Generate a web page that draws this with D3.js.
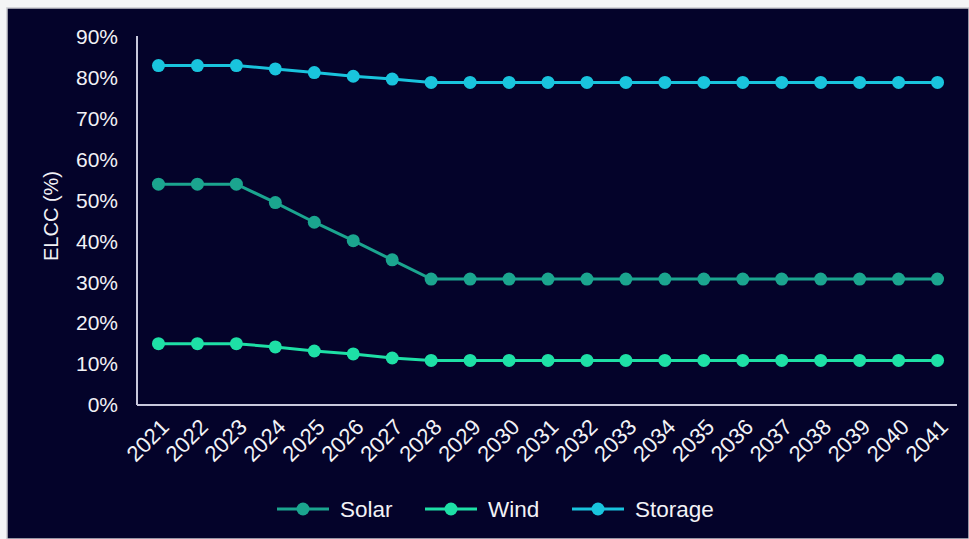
<!DOCTYPE html>
<html>
<head>
<meta charset="utf-8">
<script src="https://cdn.jsdelivr.net/npm/d3@7"></script>
<style>
  html, body { margin: 0; padding: 0; background: #ececf0; }
  svg { display: block; }
  text { font-family: "Liberation Sans", Arial, sans-serif; fill: #f2f2f6; }
</style>
</head>
<body>
<svg id="chart" width="969" height="539"></svg>
<script>
// Effective load carrying capability by resource type, 2021-2041
const years = d3.range(2021, 2042).map(String);
const solar   = [54, 54, 54, 49.5, 44.7, 40.2, 35.5, 30.8, 30.8, 30.8, 30.8, 30.8, 30.8, 30.8, 30.8, 30.8, 30.8, 30.8, 30.8, 30.8, 30.8];
const wind    = [15, 15, 15, 14.2, 13.2, 12.5, 11.5, 10.9, 10.9, 10.9, 10.9, 10.9, 10.9, 10.9, 10.9, 10.9, 10.9, 10.9, 10.9, 10.9, 10.9];
const storage = [83, 83, 83, 82.2, 81.3, 80.4, 79.7, 78.9, 78.9, 78.9, 78.9, 78.9, 78.9, 78.9, 78.9, 78.9, 78.9, 78.9, 78.9, 78.9, 78.9];
const yTicks = [0, 10, 20, 30, 40, 50, 60, 70, 80, 90];
const seriesNames = ["Solar", "Wind", "Storage"];
const seriesColors = ["#1ba58f", "#1ee0a6", "#19c4dd"];

const series = [solar, wind, storage].map((values, i) => ({
  name: seriesNames[i], color: seriesColors[i], values
}));

const svg = d3.select("#chart");
const W = 969, H = 539;

// dark panel with a thin light frame at top and left
svg.append("rect").attr("x", 0).attr("y", 0).attr("width", W).attr("height", H).attr("fill", "#f4f4f6");
svg.append("rect").attr("x", 7).attr("y", 8).attr("width", W - 7).attr("height", H - 8)
  .attr("fill", "#04032a").attr("stroke", "#c9c9cf").attr("stroke-width", 1.5);

const plotLeft = 137, plotRight = 957, plotTop = 37, plotBottom = 405;

const x = d3.scalePoint().domain(years).range([plotLeft + 2, plotRight]).padding(0.5);
const y = d3.scaleLinear().domain([0, 90]).range([plotBottom, plotTop]);

// y tick labels
const yAxis = d3.axisLeft(y).tickValues(yTicks).tickFormat(d => d + "%").tickSize(0).tickPadding(19);
const gy = svg.append("g").attr("transform", `translate(${plotLeft},0)`).call(yAxis);
gy.select(".domain").remove();
gy.selectAll("text").attr("font-size", 21).attr("fill", "#f2f2f6")
  .attr("font-family", "Liberation Sans, Arial, sans-serif");

// x tick labels, rotated
const xAxis = d3.axisBottom(x).tickSize(0).tickPadding(0);
const gx = svg.append("g").attr("transform", `translate(0,${plotBottom})`).call(xAxis);
gx.select(".domain").remove();
gx.selectAll("text")
  .attr("font-size", 22).attr("fill", "#f2f2f6")
  .attr("font-family", "Liberation Sans, Arial, sans-serif")
  .attr("text-anchor", "end")
  .attr("dy", "0.35em")
  .attr("transform", "translate(6,18) rotate(-45)");

// axis lines
svg.append("line").attr("x1", plotLeft).attr("x2", plotLeft).attr("y1", plotTop - 1).attr("y2", plotBottom)
  .attr("stroke", "#c8c8dc").attr("stroke-width", 2);
svg.append("line").attr("x1", plotLeft).attr("x2", plotRight).attr("y1", plotBottom).attr("y2", plotBottom)
  .attr("stroke", "#c8c8dc").attr("stroke-width", 2);

// y axis title
svg.append("text")
  .attr("transform", `translate(58,216) rotate(-90)`)
  .attr("text-anchor", "middle")
  .attr("font-size", 20)
  .text("ELCC (%)");

// series lines and markers
const line = d3.line().x((d, i) => x(years[i])).y(d => y(d));
const gs = svg.selectAll("g.series").data(series).join("g").attr("class", "series");
gs.append("path")
  .attr("d", d => line(d.values))
  .attr("fill", "none").attr("stroke", d => d.color).attr("stroke-width", 3);
gs.each(function(s) {
  d3.select(this).selectAll("circle").data(s.values).join("circle")
    .attr("cx", (d, i) => x(years[i])).attr("cy", d => y(d))
    .attr("r", 6.5).attr("fill", s.color);
});

// legend
const legendX = [277, 425, 572];
const legendY = 509;
const lg = svg.selectAll("g.legend").data(series).join("g").attr("class", "legend")
  .attr("transform", (d, i) => `translate(${legendX[i]},${legendY})`);
lg.append("line").attr("x1", 0).attr("x2", 52).attr("y1", 0).attr("y2", 0)
  .attr("stroke", d => d.color).attr("stroke-width", 3);
lg.append("circle").attr("cx", 26).attr("cy", 0).attr("r", 6.5).attr("fill", d => d.color);
lg.append("text").attr("x", 63).attr("y", 0).attr("dy", "0.36em")
  .attr("font-size", 22.5).text(d => d.name);
</script>
</body>
</html>
